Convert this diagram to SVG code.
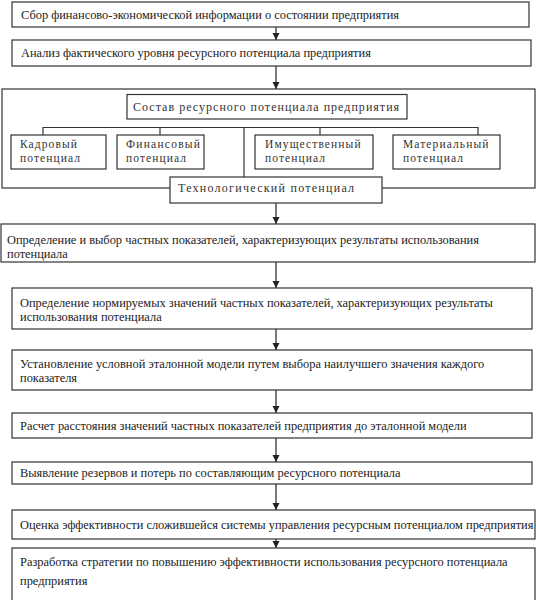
<svg xmlns="http://www.w3.org/2000/svg" width="536" height="600" viewBox="0 0 536 600">
<defs>
<marker id="ah" markerWidth="8" markerHeight="8" refX="7" refY="3.5" orient="auto" markerUnits="userSpaceOnUse">
<path d="M0,0 L7,3.5 L0,7 Z" fill="#222"/>
</marker>
</defs>
<style>
rect{fill:#fff;stroke:#333;stroke-width:1.2}
.t{font-family:"Liberation Serif","DejaVu Serif",serif;font-size:12.4px;fill:#222}
.s{font-family:"Liberation Serif","DejaVu Serif",serif;font-size:12px;fill:#333;letter-spacing:0.9px}
.m{font-family:"Liberation Serif","DejaVu Serif",serif;font-size:11.5px;fill:#333;letter-spacing:1.1px}
.c{stroke:#333;stroke-width:1.2;fill:none}
.a{stroke:#222;stroke-width:1.2;fill:none;marker-end:url(#ah)}
</style>
<rect x="0" y="0" width="536" height="600" style="fill:#fff;stroke:none"/>
<g id="big">
<rect x="2" y="89" width="533" height="99"/>
</g>
<g id="connectors">
<path class="a" d="M276,27 V40"/>
<path class="a" d="M276,66 V89"/>
<path class="a" d="M276,203 V224"/>
<path class="a" d="M276,262 V288"/>
<path class="a" d="M276,329 V350"/>
<path class="a" d="M276,390 V413"/>
<path class="a" d="M276,438 V462"/>
<path class="a" d="M276,484 V510"/>
<path class="a" d="M276,539 V548"/>
<path class="c" d="M43,135 V127.5 H478 V135 M160,127.5 V135 M320,127.5 V135 M244,127.5 V177"/>
</g>
<g id="n1"><rect x="12" y="2" width="517" height="25"/><text class="t" x="21" y="19">Сбор финансово-экономической информации о состоянии предприятия</text></g>
<g id="n2"><rect x="12" y="40" width="519" height="26"/><text class="t" x="21" y="57">Анализ фактического уровня ресурсного потенциала предприятия</text></g>
<g id="sostav"><rect x="127" y="94.5" width="280" height="24.5"/><text class="s" x="133" y="111" textLength="267">Состав ресурсного потенциала предприятия</text></g>
<g id="kadr"><rect x="11" y="135" width="95" height="34"/><text class="m" x="20" y="147.5">Кадровый</text><text class="m" x="20" y="161.5">потенциал</text></g>
<g id="fin"><rect x="117" y="135" width="87" height="34"/><text class="m" x="126" y="147.5" textLength="75">Финансовый</text><text class="m" x="126" y="161.5">потенциал</text></g>
<g id="imush"><rect x="255" y="135" width="118" height="34"/><text class="m" x="265" y="147.5">Имущественный</text><text class="m" x="265" y="161.5">потенциал</text></g>
<g id="mater"><rect x="393" y="135" width="107" height="34"/><text class="m" x="403" y="147.5">Материальный</text><text class="m" x="403" y="161.5">потенциал</text></g>
<g id="tech"><rect x="170" y="177" width="212" height="26"/><text class="s" x="178" y="192" textLength="177">Технологический  потенциал</text></g>
<g id="n3"><rect x="1" y="224" width="534" height="38"/><text class="t" x="7" y="244">Определение и выбор частных показателей, характеризующих результаты использования</text><text class="t" x="7" y="258">потенциала</text></g>
<g id="n4"><rect x="12" y="288" width="520" height="41"/><text class="t" x="20" y="307">Определение нормируемых значений частных  показателей, характеризующих результаты</text><text class="t" x="20" y="321">использования потенциала</text></g>
<g id="n5"><rect x="12" y="350" width="520" height="40"/><text class="t" x="20" y="368">Установление условной эталонной модели путем выбора наилучшего значения каждого</text><text class="t" x="20" y="382">показателя</text></g>
<g id="n6"><rect x="12" y="413" width="520" height="25"/><text class="t" x="20" y="430">Расчет расстояния значений частных показателей предприятия до эталонной модели</text></g>
<g id="n7"><rect x="12" y="462" width="520" height="22"/><text class="t" x="20" y="477">Выявление резервов и потерь по составляющим ресурсного потенциала</text></g>
<g id="n8"><rect x="12" y="510" width="523" height="29"/><text class="t" x="20" y="529">Оценка эффективности сложившейся системы управления ресурсным потенциалом предприятия</text></g>
<g id="n9"><rect x="12" y="548" width="523" height="54"/><text class="t" x="20" y="566">Разработка стратегии по повышению эффективности использования ресурсного потенциала</text><text class="t" x="20" y="585">предприятия</text></g>
</svg>
